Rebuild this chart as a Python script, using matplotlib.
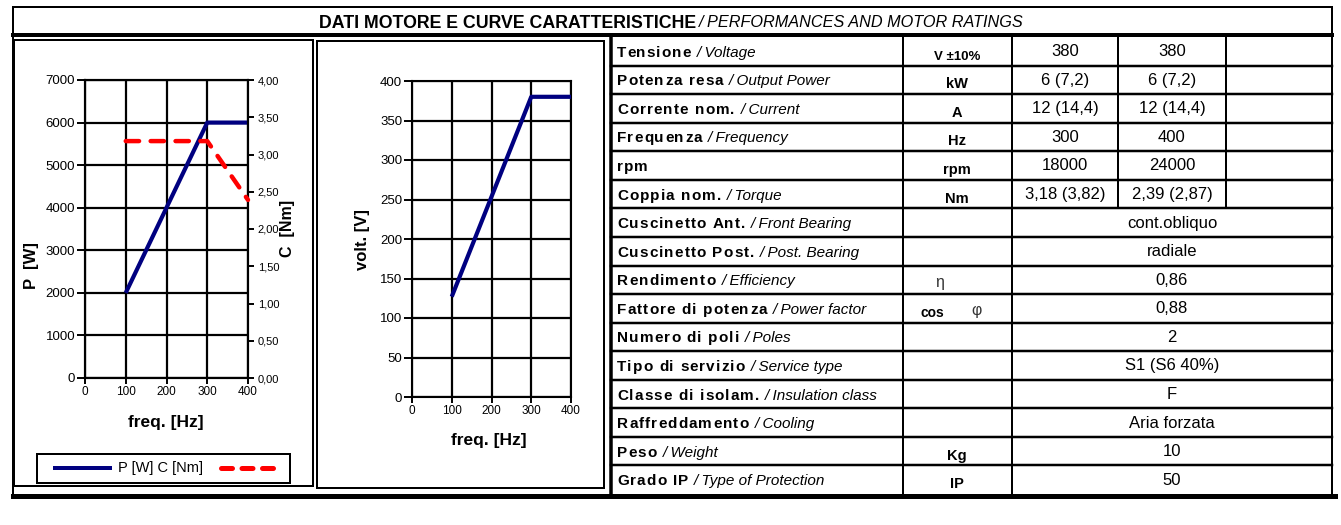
import matplotlib
matplotlib.use('Agg')
import matplotlib.pyplot as plt
from matplotlib import font_manager as fm
from matplotlib.lines import Line2D
from matplotlib.patches import Rectangle

# ---------------- data ----------------
freq_hz = [100, 300, 400]
power_w = [2000, 6000, 6000]
torque_nm = [3.18, 3.18, 2.39]
voltage_v = [127, 380, 380]

freq_ticks = [0, 100, 200, 300, 400]
power_ticks = [0, 1000, 2000, 3000, 4000, 5000, 6000, 7000]
torque_ticks = [0.0, 0.5, 1.0, 1.5, 2.0, 2.5, 3.0, 3.5, 4.0]
volt_ticks = [0, 50, 100, 150, 200, 250, 300, 350, 400]

title_it = 'DATI MOTORE E CURVE CARATTERISTICHE'
title_en = '/ PERFORMANCES AND MOTOR RATINGS'

labels_it = ['Tensione', 'Potenza resa', 'Corrente nom.', 'Frequenza', 'rpm',
             'Coppia nom.', 'Cuscinetto Ant.', 'Cuscinetto Post.', 'Rendimento',
             'Fattore di potenza', 'Numero di poli', 'Tipo di servizio',
             'Classe di isolam.', 'Raffreddamento', 'Peso', 'Grado IP']
labels_en = ['/ Voltage', '/ Output Power', '/ Current', '/ Frequency', '',
             '/ Torque', '/ Front Bearing', '/ Post. Bearing', '/ Efficiency',
             '/ Power factor', '/ Poles', '/ Service type', '/ Insulation class',
             '/ Cooling', '/ Weight', '/ Type of Protection']
units = ['V ±10%', 'kW', 'A', 'Hz', 'rpm', 'Nm', '', '', 'η', 'cos φ',
         '', '', '', '', 'Kg', 'IP']
values_300hz = ['380', '6 (7,2)', '12 (14,4)', '300', '18000', '3,18 (3,82)']
values_400hz = ['380', '6 (7,2)', '12 (14,4)', '400', '24000', '2,39 (2,87)']
common_values = ['cont.obliquo', 'radiale', '0,86', '0,88', '2', 'S1 (S6 40%)',
                 'F', 'Aria forzata', '10', '50']

legend_text = 'P [W] C [Nm]'

# ---------------- setup ----------------
W, H = 1341, 525
fig = plt.figure(figsize=(W / 100, H / 100), dpi=100)
fig.patch.set_facecolor('white')

names = {f.name for f in fm.fontManager.ttflist}
SANS = 'Liberation Sans' if 'Liberation Sans' in names else 'DejaVu Sans'
NARROW = 'Liberation Sans Narrow' if 'Liberation Sans Narrow' in names else SANS
FAM = [SANS, 'DejaVu Sans']
plt.rcParams['font.family'] = FAM

renderer = fig.canvas.get_renderer()


def X(px):
    return px / W


def Y(py):
    return 1 - py / H


def PT(px):
    return px * 0.72


def line(x0, y0, x1, y1, lw, color='black', **kw):
    fig.add_artist(Line2D([X(x0), X(x1)], [Y(y0), Y(y1)], lw=PT(lw), color=color,
                          transform=fig.transFigure, solid_capstyle='projecting', **kw))


def rect(x0, y0, x1, y1, lw):
    fig.add_artist(Rectangle((X(x0), Y(y1)), X(x1) - X(x0), Y(y0) - Y(y1),
                             transform=fig.transFigure, fill=False, lw=PT(lw),
                             edgecolor='black'))


def twidth(s, size, **kw):
    t = fig.text(0, 0, s, fontsize=size, **kw)
    w = t.get_window_extent(renderer).width
    t.remove()
    return w


def spaced(x, ybase, s, spacing, size, **kw):
    wH = twidth('H', size, **kw)
    for i, ch in enumerate(s):
        if ch == ' ':
            continue
        off = (twidth(s[:i] + 'H', size, **kw) - wH) if i > 0 else 0
        fig.text(X(x + off + i * spacing), Y(ybase), ch, fontsize=size,
                 ha='left', va='baseline', **kw)
    return x + twidth(s, size, **kw) + (len(s) - 1) * spacing


def fit(x, ybase, s, target_w, size, ha='left', **kw):
    w = twidth(s, size, **kw)
    size = size * target_w / w
    fig.text(X(x), Y(ybase), s, fontsize=size, ha=ha, va='baseline', **kw)


# ---------------- frame ----------------
line(13, 7, 1332, 7, 2)
line(13, 7, 13, 497, 2)
line(1332, 7, 1332, 495, 2)
line(13, 35, 1332, 35, 4)
line(13, 496, 1335, 496, 5)

fit(319, 28, title_it, 378, 14, family=[NARROW, SANS], weight='bold')
fit(699, 27, title_en, 325, 10, family=FAM, style='italic')

# ---------------- panel boxes ----------------
rect(14, 40, 313, 486, 2)
rect(317, 41, 604, 488, 2)

# ---------------- chart 1 ----------------
YTICK, XTICK, RTICK = 9.5, 8.5, 8
ax1 = fig.add_axes([X(85), Y(378), X(248) - X(85), Y(80) - Y(378)])
ax1.set_xlim(0, 400)
ax1.set_ylim(0, 7000)
ax1.set_xticks(freq_ticks)
ax1.set_yticks(power_ticks)
ax1.grid(True, color='black', lw=1.6)
ax1.tick_params(axis='y', direction='out', length=6, width=1.4, pad=1, labelsize=YTICK)
ax1.tick_params(axis='x', direction='out', length=4, width=1.4, pad=2, labelsize=XTICK)
for sp in ax1.spines.values():
    sp.set_linewidth(1.5)
ax1.plot(freq_hz, power_w, color='#000080', lw=3.0, solid_capstyle='butt', zorder=3, clip_on=False)

ax1b = ax1.twinx()
ax1b.set_ylim(0, 4)
ax1b.set_yticks(torque_ticks)
ax1b.set_yticklabels([f'{v:.2f}'.replace('.', ',') for v in torque_ticks])
ax1b.tick_params(axis='y', direction='out', length=4, width=1.4, pad=3, labelsize=RTICK)
for sp in ax1b.spines.values():
    sp.set_linewidth(1.5)
ax1b.plot(freq_hz, torque_nm, color='#FF0000', lw=3.2, dashes=(3.0, 2.6),
          dash_capstyle='round', zorder=4, clip_on=False)

fig.text(X(166), Y(422), 'freq. [Hz]', fontsize=12.5, weight='bold', ha='center', va='center')
fig.text(X(32), Y(266), 'P  [W]', fontsize=12, weight='bold', ha='center', va='center', rotation=90)
fig.text(X(287.5), Y(228), 'C  [Nm]', fontsize=11.5, weight='bold', ha='center', va='center', rotation=90)

# legend
rect(37, 454, 290, 483, 2)
line(55, 467.5, 110, 467.5, 4, color='#000080', solid_joinstyle='round')
fig.text(X(118), Y(468), legend_text, fontsize=10.5, ha='left', va='center')
fig.add_artist(Line2D([X(221), X(273)], [Y(467.5), Y(467.5)], lw=PT(5), color='#FF0000',
                      dashes=(2.2, 1.9), dash_capstyle='round', transform=fig.transFigure))

# ---------------- chart 2 ----------------
ax2 = fig.add_axes([X(412), Y(397), X(571) - X(412), Y(81) - Y(397)])
ax2.set_xlim(0, 400)
ax2.set_ylim(0, 400)
ax2.set_xticks(freq_ticks)
ax2.set_yticks(volt_ticks)
ax2.grid(True, color='black', lw=1.6)
ax2.tick_params(axis='y', direction='out', length=6, width=1.4, pad=1, labelsize=YTICK)
ax2.tick_params(axis='x', direction='out', length=4, width=1.4, pad=2, labelsize=XTICK)
for sp in ax2.spines.values():
    sp.set_linewidth(1.5)
ax2.plot(freq_hz, voltage_v, color='#000080', lw=3.0, solid_capstyle='butt', zorder=3, clip_on=False)

fig.text(X(489), Y(441), 'freq. [Hz]', fontsize=12.5, weight='bold', ha='center', va='center')
fig.text(X(363), Y(240), 'volt. [V]', fontsize=12, weight='bold', ha='center', va='center', rotation=90)

# ---------------- table ----------------
T_TOP, T_BOT = 37, 494
NROW = len(labels_it)
RH = (T_BOT - T_TOP) / NROW
C0, C1, C2, C3, C4, C5 = 611, 903, 1012, 1118, 1226, 1332

for k in range(1, NROW):
    y = T_TOP + k * RH
    line(C0, y, C5, y, 2.5)
line(C0, T_TOP, C0, T_BOT, 3.5)
line(C1, T_TOP, C1, T_BOT, 2)
line(C2, T_TOP, C2, T_BOT, 2)
line(C3, T_TOP, C3, T_TOP + 6 * RH, 2)
line(C4, T_TOP, C4, T_TOP + 6 * RH, 2)

LBL = 11
cap = 0.716 * LBL / 0.72
for i in range(NROW):
    yc = T_TOP + (i + 0.5) * RH
    yb = yc + cap / 2
    end = spaced(617, yb, labels_it[i], 1.1, LBL, weight='bold')
    if labels_en[i]:
        fig.text(X(end + 6), Y(yb), labels_en[i], fontsize=11, style='italic',
                 ha='left', va='baseline')
    u = units[i]
    if u == 'cos φ':
        fig.text(X(932), Y(yb + 3), 'cos', fontsize=10, weight='bold', ha='center', va='baseline')
        fig.text(X(976), Y(yb + 1), 'φ', fontsize=11.5, ha='center', va='baseline',
                 color='#333333')
    elif u == 'η':
        fig.text(X(940), Y(yb + 2), u, fontsize=11.5, ha='center', va='baseline', color='#333333')
    elif u:
        fig.text(X(957), Y(yb + 3), u, fontsize=10.5 if u != 'V ±10%' else 9.5,
                 weight='bold', ha='center', va='baseline')
    vcap = 0.716 * 12 / 0.72
    if i < len(values_300hz):
        fig.text(X((C2 + C3) / 2), Y(yc + vcap / 2 - 1), values_300hz[i], fontsize=12,
                 ha='center', va='baseline')
        fig.text(X((C3 + C4) / 2), Y(yc + vcap / 2 - 1), values_400hz[i], fontsize=12,
                 ha='center', va='baseline')
    else:
        fig.text(X((C2 + C5) / 2), Y(yc + vcap / 2 - 1), common_values[i - len(values_300hz)],
                 fontsize=12, ha='center', va='baseline')

fig.savefig('out.png', dpi=100, facecolor='white')
